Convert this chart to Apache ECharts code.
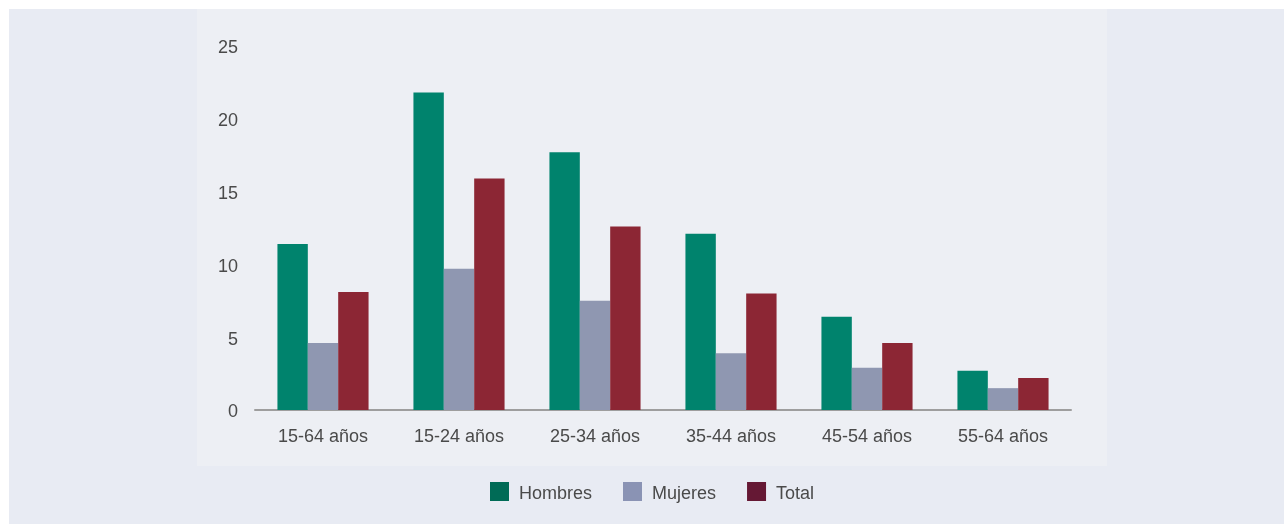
<!DOCTYPE html>
<html>
<head>
<meta charset="utf-8">
<script src="https://cdn.jsdelivr.net/npm/echarts@6/dist/echarts.min.js"></script>
<style>
html,body{margin:0;padding:0;background:#ffffff;}
#c{width:1284px;height:524px;}
</style>
</head>
<body>
<div id="c"></div>
<script>
const categories = ['15-64 años','15-24 años','25-34 años','35-44 años','45-54 años','55-64 años'];
const hombres = [11.4, 21.8, 17.7, 12.1, 6.4, 2.7];
const mujeres = [4.6, 9.7, 7.5, 3.9, 2.9, 1.5];
const total   = [8.1, 15.9, 12.6, 8.0, 4.6, 2.2];
const seriesNames = ['Hombres','Mujeres','Total'];
const yTicks = [0, 5, 10, 15, 20, 25];

const barColors = ['#00836d', '#8f97b1', '#8c2634'];
const legendColors = ['#006b56', '#8a93b4', '#651834'];
const font = 'Liberation Sans, Arial, Helvetica, sans-serif';

const chart = echarts.init(document.getElementById('c'), null, {renderer:'canvas'});
chart.setOption({
  animation: false,
  backgroundColor: '#ffffff',
  graphic: [
    {type:'rect', z:-10, silent:true, shape:{x:9, y:9, width:1275, height:515}, style:{fill:'#e8ebf3'}},
    {type:'rect', z:-9, silent:true, shape:{x:197, y:9, width:910, height:457}, style:{fill:'#edeff4'}}
  ],
  grid: {left:255, right:213, top:46, bottom:114, containLabel:false},
  legend: {
    left: 490, top: 482, padding: 0,
    itemWidth: 19, itemHeight: 19, itemGap: 31,
    icon: 'rect',
    formatter: n => '{t|' + n + '}',
    textStyle: {fontFamily: font, fontSize: 18, color: '#4a4a4a',
      rich: {t: {fontFamily: font, fontSize: 18, color: '#4a4a4a', padding:[5,0,0,5]}}},
    data: seriesNames.map((n,i)=>({name:n, itemStyle:{color:legendColors[i]}}))
  },
  xAxis: {
    type: 'category',
    data: categories,
    axisLine: {show:true, lineStyle:{color:'#9e9e9e', width:2}},
    axisTick: {show:false},
    axisLabel: {fontFamily: font, fontSize: 18, color: '#4a4a4a', margin: 18}
  },
  yAxis: {
    type: 'value',
    min: 0, max: 25, interval: 5,
    axisLine: {show:false},
    axisTick: {show:false},
    splitLine: {show:false},
    axisLabel: {fontFamily: font, fontSize: 18, color: '#4a4a4a', margin: 17,
      formatter: v => yTicks.includes(v) ? '{v|' + v + '}' : '',
      rich: {v: {fontFamily: font, fontSize: 18, color: '#4a4a4a', padding:[5,0,0,0]}}}
  },
  series: [hombres, mujeres, total].map((d,i)=>({
    name: seriesNames[i],
    type: 'bar',
    data: d,
    barGap: '0%',
    barCategoryGap: '33%',
    itemStyle: {color: barColors[i]}
  }))
});
</script>
</body>
</html>
